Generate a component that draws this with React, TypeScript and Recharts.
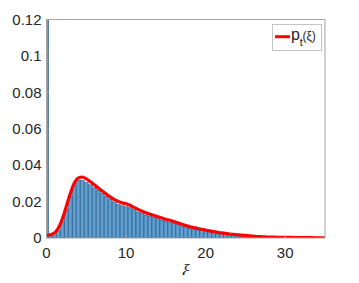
import React from 'react';
import { ComposedChart, Bar, Line, XAxis, YAxis } from 'recharts';

const xi = [
  0, 0.5, 1, 1.5, 2, 2.5, 3, 3.5, 4, 4.5, 5, 5.5, 6, 6.5, 7, 7.5, 8, 8.5, 9, 9.5,
  10, 10.5, 11, 11.5, 12, 12.5, 13, 13.5, 14, 14.5, 15, 15.5, 16, 16.5, 17, 17.5, 18, 18.5, 19, 19.5,
  20, 20.5, 21, 21.5, 22, 22.5, 23, 23.5, 24, 24.5, 25, 25.5, 26, 26.5, 27, 27.5, 28, 28.5, 29, 29.5,
  30, 30.5, 31, 31.5, 32, 32.5, 33, 33.5, 34, 34.5, 35,
];

const histVals = [
  0.12, 0.0008, 0.0018, 0.004, 0.009, 0.016, 0.023, 0.029, 0.0318, 0.0316,
  0.0305, 0.0292, 0.0276, 0.0262, 0.0245, 0.0228, 0.0212, 0.0198, 0.0186, 0.0177,
  0.0172, 0.0166, 0.0155, 0.0143, 0.0135, 0.0126, 0.0119, 0.0112, 0.0106, 0.0099,
  0.0093, 0.0087, 0.008, 0.0074, 0.0067, 0.0061, 0.0055, 0.005, 0.0046, 0.0042,
  0.0038, 0.0034, 0.003, 0.0027, 0.0024, 0.0021, 0.0018, 0.0016, 0.0014, 0.0012,
  0.001, 0.0009, 0.0007, 0.0006, 0.0005, 0.0004, 0.0003, 0.0003, 0.0002, 0.0002,
  0.0002, 0.0001, 0.0001, 0.0001, 0.0001, 0.0001, 0, 0, 0, 0, 0,
];

const pdfVals = [
  0.0015, 0.0018, 0.0028, 0.0055, 0.0105, 0.0175, 0.0245, 0.0302, 0.033, 0.0335,
  0.0325, 0.031, 0.0292, 0.0275, 0.0258, 0.0242, 0.0226, 0.0212, 0.0201, 0.0193,
  0.0188, 0.018, 0.0168, 0.0157, 0.0147, 0.0139, 0.0131, 0.0124, 0.0117, 0.011,
  0.0103, 0.0097, 0.009, 0.0083, 0.0076, 0.0069, 0.0062, 0.0057, 0.0052, 0.0048,
  0.0044, 0.0039, 0.0035, 0.0031, 0.0028, 0.0025, 0.0022, 0.002, 0.0018, 0.0016,
  0.0014, 0.0012, 0.001, 0.0008, 0.0007, 0.0006, 0.0005, 0.0005, 0.0004, 0.0004,
  0.0003, 0.0003, 0.0003, 0.0002, 0.0002, 0.0002, 0.0002, 0.0002, 0.0001, 0.0001, 0.0001,
];

const xTicks = [0, 10, 20, 30];
const yTicks = [0, 0.02, 0.04, 0.06, 0.08, 0.1, 0.12];
const legendLabel = 'p';
const legendSub = 't';
const legendArg = '(ξ)';
const xLabel = 'ξ';

const data = xi.map((x, i) => ({ x, h: histVals[i], p: pdfVals[i] }));

const axisColor = '#a3a3a3';
const textColor = '#262626';
const font = '"Liberation Sans", Arial, Helvetica, sans-serif';

export default function App() {
  return (
    <div style={{ position: 'relative', width: 343, height: 275, marginBottom: -8 }}>
      <ComposedChart
        width={343}
        height={275}
        data={data}
        margin={{ top: 10.5, right: 25, bottom: 0, left: 0 }}
        barCategoryGap={0}
        barGap={0}
        style={{ fontFamily: font }}
      >
        <XAxis
          xAxisId="b"
          dataKey="x"
          type="number"
          domain={[0, 35]}
          ticks={xTicks}
          allowDataOverflow
          height={45}
          tickSize={-3}
          tickMargin={12}
          stroke={axisColor}
          tick={{ fill: textColor, fontSize: 15, fontFamily: font }}
          label={{
            value: xLabel,
            position: 'insideBottom',
            offset: 6,
            style: { fontStyle: 'italic', fontFamily: '"Liberation Serif", "DejaVu Serif", serif', fontSize: 18, fill: textColor },
          }}
        />
        <XAxis
          xAxisId="t"
          orientation="top"
          dataKey="x"
          type="number"
          domain={[0, 35]}
          ticks={xTicks}
          allowDataOverflow
          height={1}
          tickSize={-3}
          stroke={axisColor}
          tick={false}
        />
        <YAxis
          yAxisId="l"
          type="number"
          domain={[0, 0.12]}
          ticks={yTicks}
          allowDataOverflow
          width={38.5}
          tickSize={-3}
          tickMargin={8}
          stroke={axisColor}
          tick={{ fill: textColor, fontSize: 15, fontFamily: font }}
        />
        <YAxis
          yAxisId="r"
          orientation="right"
          type="number"
          domain={[0, 0.12]}
          ticks={yTicks}
          allowDataOverflow
          width={1}
          tickSize={-3}
          stroke={axisColor}
          tick={false}
        />
        <Bar
          xAxisId="b"
          yAxisId="l"
          dataKey="h"
          fill="#5f9fd2"
          stroke="#1f4e75"
          strokeWidth={0.6}
          isAnimationActive={false}
        />
        <Line
          xAxisId="t"
          yAxisId="r"
          dataKey="p"
          type="monotone"
          stroke="none"
          strokeWidth={0}
          dot={false}
          activeDot={false}
          isAnimationActive={false}
        />
        <Line
          xAxisId="b"
          yAxisId="l"
          dataKey="p"
          type="monotone"
          stroke="#ff0000"
          strokeWidth={3.2}
          dot={false}
          activeDot={false}
          isAnimationActive={false}
        />
      </ComposedChart>
      <svg
        width={50}
        height={27}
        style={{ position: 'absolute', left: 264, top: 16 }}
      >
        <rect x={0.5} y={0.5} width={49} height={26} fill="#ffffff" stroke="#c4c4c4" strokeWidth={1} />
        <line x1={3} x2={18} y1={12.7} y2={12.7} stroke="#ff0000" strokeWidth={3} />
        <text x={19} y={16} fontSize={16} fill={textColor} fontFamily={font}>{legendLabel}</text>
        <text x={27.8} y={21.5} fontSize={11} fill={textColor} fontFamily={font}>{legendSub}</text>
        <text x={30.5} y={15.5} fontSize={12} fill={textColor} fontFamily={font}>{legendArg}</text>
      </svg>
    </div>
  );
}
